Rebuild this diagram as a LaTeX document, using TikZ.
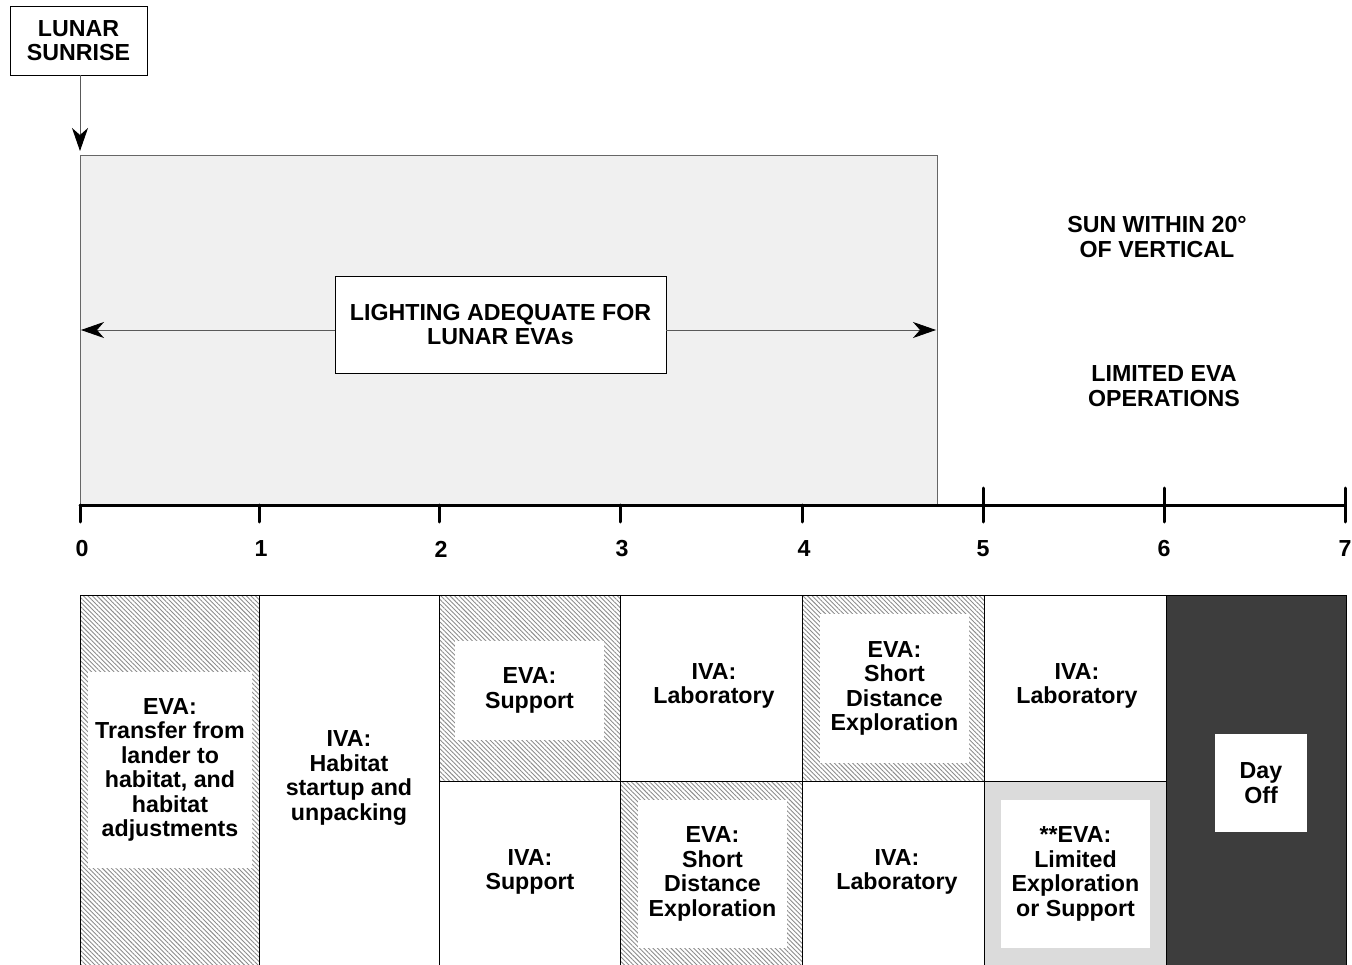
\documentclass[tikz,border=0pt]{standalone}
\usepackage{fontspec}
\setmainfont{Liberation Sans}
\usetikzlibrary{arrows.meta,patterns.meta}
\begin{document}
\begin{tikzpicture}[x=1pt,y=-1pt,
  lbl/.style={font=\bfseries\fontsize{23.2}{24.5}\selectfont, align=center, inner sep=0pt},
  wbox/.style={fill=white, draw=none, inner sep=0pt},
  frame/.style={draw=black, line width=0.8pt},
  hatch/.style={pattern={Lines[angle=-45,distance=3.2pt,line width=0.9pt]}, pattern color=black!45},
  dots/.style={fill=black!6},
  checker/.style={fill=black!14},
  arr/.style={draw=black!65, line width=0.8pt, -{Stealth[length=23pt,width=16pt,inset=7pt,color=black]}},
  axis/.style={line width=3pt, line cap=round}]
\useasboundingbox (0,0) rectangle (1352,965);
% top light area
\fill[dots] (80,155) rectangle (937,505);
\draw[black!60, line width=0.8pt] (80,505) -- (80,155) -- (937,155) -- (937,505);
% lunar sunrise
\node[lbl, draw=black, line width=0.8pt, minimum width=137pt, minimum height=69pt] (sunrise) at (78.5,40.5) {LUNAR\\SUNRISE};
\coordinate (start) at (80,151);
\draw[arr] (sunrise.south -| start) -- (start);
% lighting box
\node[lbl, fill=white, draw=black, line width=0.8pt, minimum width=331pt, minimum height=97pt] (light) at (500.5,324.5) {LIGHTING ADEQUATE FOR\\LUNAR EVAs};
\coordinate (lend) at (81,330);
\coordinate (rend) at (936,330);
\draw[arr] (light.west |- lend) -- (lend);
\draw[arr] (light.east |- rend) -- (rend);
% right labels
\node[lbl] (sun) at (1157,237) {SUN WITHIN 20°\\OF VERTICAL};
\node[lbl] (lim) at (1164,386) {LIMITED EVA\\OPERATIONS};
% axis
\draw[axis] (80,505) -- (1345,505);
\foreach \x/\n in {80/0,259/1,439/2,620/3,802/4}{
  \draw[axis] (\x,505) -- (\x,522);
  \node[lbl] (t\n) at (\x+2,549) {\n};
}
\foreach \x/\n in {983/5,1164/6,1345/7}{
  \draw[axis] (\x,488) -- (\x,522);
  \node[lbl] (t\n) at (\x,549) {\n};
}
% bottom cells
\fill[hatch] (80,595) rectangle (259,965);
\fill[hatch] (439,595) rectangle (620,781);
\fill[hatch] (620,781) rectangle (802,965);
\fill[hatch] (802,595) rectangle (984,781);
\fill[checker] (984,781) rectangle (1166,965);
\fill[black!76] (1166,595) rectangle (1346,965);
% grid
\draw[frame] (80,965) -- (80,595) -- (1346,595) -- (1346,965);
\foreach \x in {259,439,620,802,984,1166}{ \draw[frame] (\x,595) -- (\x,965); }
\draw[frame] (439,781) -- (1166,781);
% inner white boxes and texts
\node[wbox, minimum width=164pt, minimum height=196pt] (b1) at (170,770) {};
\node[lbl] (t1) at (b1) {EVA:\\Transfer from\\lander to\\habitat, and\\habitat\\adjustments};
\node[lbl] (t2) at (349,778) {IVA:\\Habitat\\startup and\\unpacking};
\node[wbox, minimum width=149pt, minimum height=99pt] (b3) at (529.5,690.5) {};
\node[lbl] (t3) at (b3) {EVA:\\Support};
\node[lbl] (t3b) at (530,872) {IVA:\\Support};
\node[lbl] (t4) at (714,686) {IVA:\\Laboratory};
\node[wbox, minimum width=149pt, minimum height=148pt] (b4) at (712.5,874) {};
\node[lbl] (t4b) at (b4) {EVA:\\Short\\Distance\\Exploration};
\node[wbox, minimum width=149pt, minimum height=149pt] (b5) at (894.5,688.5) {};
\node[lbl] (t5) at (b5) {EVA:\\Short\\Distance\\Exploration};
\node[lbl] (t5b) at (897,872) {IVA:\\Laboratory};
\node[lbl] (t6) at (1077,686) {IVA:\\Laboratory};
\node[wbox, minimum width=149pt, minimum height=148pt] (b6) at (1075.5,874) {};
\node[lbl] (t6b) at (b6) {**EVA:\\Limited\\Exploration\\or Support};
\node[wbox, minimum width=92pt, minimum height=98pt] (b7) at (1261,783) {};
\node[lbl] (t7) at (b7) {Day\\Off};
\end{tikzpicture}
\end{document}
